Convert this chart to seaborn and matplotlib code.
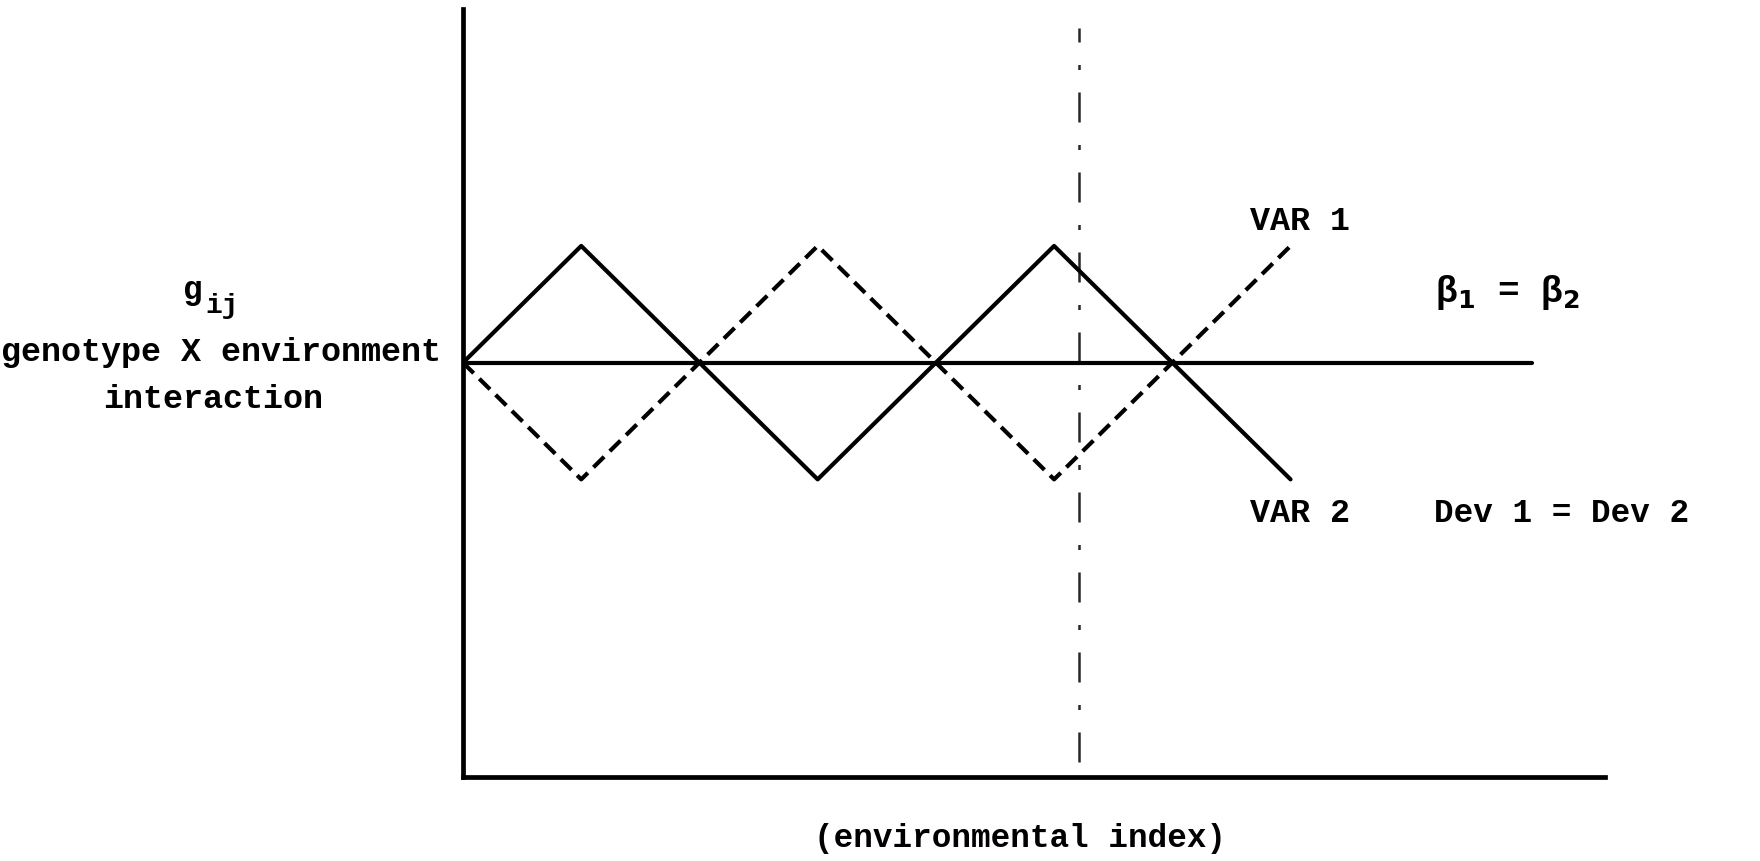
import matplotlib
matplotlib.use("Agg")
import matplotlib.pyplot as plt
import seaborn as sns
import pandas as pd
import numpy as np

# ---- data ----
env_index = [0, 1, 2, 3, 4, 5, 6, 7]
var1_gij = [0, -1, 0, 1, 0, -1, 0, 1]      # dashed
var2_gij = [0, 1, 0, -1, 0, 1, 0, -1]      # solid
baseline_x = [0, 9.04]
baseline_y = [0, 0]
marker_x = 5.21

sns.set_style("white")
plt.rcParams['font.family'] = ['Liberation Mono', 'DejaVu Sans Mono']

W, H = 1760, 861
fig = plt.figure(figsize=(W / 100, H / 100), dpi=100)
ax = fig.add_axes([463 / W, 1 - 777 / H, (1605 - 463) / W, (777 - 9) / H])

df = pd.DataFrame({
    "x": env_index * 2,
    "g": var1_gij + var2_gij,
    "var": ["VAR 1"] * len(env_index) + ["VAR 2"] * len(env_index),
})
sns.lineplot(data=df, x="x", y="g", hue="var", style="var",
             palette={"VAR 1": "black", "VAR 2": "black"},
             dashes={"VAR 1": (3.6, 1.9), "VAR 2": ""},
             linewidth=3.0, legend=False, ax=ax)
sns.lineplot(x=baseline_x, y=baseline_y, color="black", linewidth=3.0, ax=ax)
ax.axvline(marker_x, ymin=0.02, ymax=0.975, color="black", linewidth=1.8,
           linestyle=(0, (12, 9, 2, 9)), alpha=0.85)

ax.set_xlim(0, 9.66)
ax.set_ylim(-3.55, 3.03)
ax.set_xticks([])
ax.set_yticks([])
ax.set_xlabel("")
ax.set_ylabel("")
for s in ["top", "right"]:
    ax.spines[s].set_visible(False)
for s in ["left", "bottom"]:
    ax.spines[s].set_color("black")
    ax.spines[s].set_linewidth(3.4)


def ftext(x, y, s, size=23.5, **kw):
    fig.text(x / W, 1 - y / H, s, fontsize=size, fontweight="bold",
             ha="center", va="center", color="black", **kw)


ftext(193, 290, "g")
ftext(222, 306, "ij", size=20)
ftext(221, 352, "genotype X environment", size=24)
ftext(213, 400, "interaction", size=24)
ftext(1300, 222, "VAR 1", size=24)
ftext(1300, 514, "VAR 2", size=24)
ftext(1508, 292, "β$_\\mathbf{1}$ = β$_\\mathbf{2}$", size=26)
ftext(1562, 514, "Dev 1 = Dev 2", size=23.5)
ftext(1020, 838, "(environmental index)", size=23.5)

fig.savefig("out.png", dpi=100, facecolor="white")
